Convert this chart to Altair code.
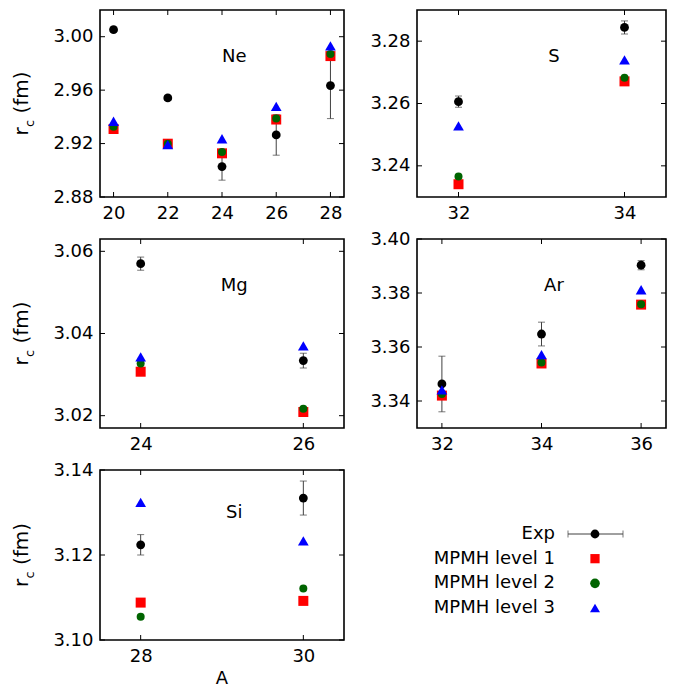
import altair as alt
import pandas as pd

FONT = "DejaVu Sans"
RED = "#ff0000"
GREEN = "#006400"
BLUE = "#0000ff"
BLACK = "#000000"
ERR = "#404040"

# ---------------- data ----------------
ne_A = [20, 22, 24, 26, 28]
ne_exp = [3.0053, 2.9542, 2.9028, 2.9265, 2.9634]
ne_err = [0.0017, 0.0018, 0.0102, 0.0152, 0.0247]
ne_l1 = [2.9309, 2.9199, 2.9127, 2.9380, 2.9855]
ne_l2 = [2.9326, 2.9199, 2.9137, 2.9387, 2.9870]
ne_l3 = [2.9367, 2.9192, 2.9236, 2.9478, 2.9932]

s_A = [32, 34]
s_exp = [3.2606, 3.2844]
s_err = [0.0018, 0.0021]
s_l1 = [3.2341, 3.2671]
s_l2 = [3.2366, 3.2683]
s_l3 = [3.2528, 3.2740]

mg_A = [24, 26]
mg_exp = [3.0570, 3.0334]
mg_err = [0.0016, 0.0018]
mg_l1 = [3.0307, 3.0209]
mg_l2 = [3.0327, 3.0217]
mg_l3 = [3.0343, 3.0370]

ar_A = [32, 34, 36]
ar_exp = [3.3463, 3.3648, 3.3903]
ar_err = [0.0103, 0.0044, 0.0017]
ar_l1 = [3.3420, 3.3539, 3.3757]
ar_l2 = [3.3426, 3.3543, 3.3758]
ar_l3 = [3.3441, 3.3572, 3.3812]

si_A = [28, 30]
si_exp = [3.1224, 3.1334]
si_err = [0.0024, 0.0040]
si_l1 = [3.1088, 3.1092]
si_l2 = [3.1055, 3.1121]
si_l3 = [3.1324, 3.1233]

ne_xticks = [20, 22, 24, 26, 28]
ne_yticks = [2.88, 2.92, 2.96, 3.00]
s_xticks = [32, 34]
s_yticks = [3.24, 3.26, 3.28]
mg_xticks = [24, 26]
mg_yticks = [3.02, 3.04, 3.06]
ar_xticks = [32, 34, 36]
ar_yticks = [3.34, 3.36, 3.38, 3.40]
si_xticks = [28, 30]
si_yticks = [3.10, 3.12, 3.14]

legend_labels = ["Exp", "MPMH level 1", "MPMH level 2", "MPMH level 3"]

TICK = 5


def panel(name, A, exp, err, l1, l2, l3, xdom, ydom, xticks, yticks, w, h,
          ytitle=False, xtitle=False):
    lo = [round(e - d, 5) for e, d in zip(exp, err)]
    hi = [round(e + d, 5) for e, d in zip(exp, err)]
    exp_df = pd.DataFrame({"A": A, "r": exp, "lo": lo, "hi": hi})
    xs = alt.Scale(domain=xdom, nice=False, zero=False)
    ys = alt.Scale(domain=ydom, nice=False, zero=False)
    xaxis = alt.Axis(values=xticks, format="d", title=None)
    yaxis = alt.Axis(values=yticks, format=".2f", title=None)

    def X(f="A"):
        return alt.X(f + ":Q", scale=xs, axis=xaxis)

    def Y(f="r"):
        return alt.Y(f + ":Q", scale=ys, axis=yaxis)

    ytdf = pd.DataFrame({"r": yticks})
    xtdf = pd.DataFrame({"A": xticks})
    layers = [
        alt.Chart(exp_df).mark_rule(color=ERR, strokeWidth=1).encode(
            x=X(), y=Y("lo"), y2="hi:Q"),
        alt.Chart(ytdf).mark_rule(color="black", strokeWidth=1).encode(
            y=Y(), x=alt.value(0), x2=alt.value(TICK)),
        alt.Chart(ytdf).mark_rule(color="black", strokeWidth=1).encode(
            y=Y(), x=alt.value(w), x2=alt.value(w - TICK)),
        alt.Chart(xtdf).mark_rule(color="black", strokeWidth=1).encode(
            x=X(), y=alt.value(h), y2=alt.value(h - TICK)),
        alt.Chart(xtdf).mark_rule(color="black", strokeWidth=1).encode(
            x=X(), y=alt.value(0), y2=alt.value(TICK)),
        alt.Chart(exp_df).mark_tick(color=ERR, thickness=1, size=7, orient="horizontal").encode(
            x=X(), y=Y("lo")),
        alt.Chart(exp_df).mark_tick(color=ERR, thickness=1, size=7, orient="horizontal").encode(
            x=X(), y=Y("hi")),
        alt.Chart(exp_df).mark_point(filled=True, shape="circle", size=78, color=BLACK,
                                     opacity=1).encode(x=X(), y=Y()),
        alt.Chart(pd.DataFrame({"A": A, "r": l1})).mark_point(
            filled=True, shape="square", size=100, color=RED, opacity=1).encode(x=X(), y=Y()),
        alt.Chart(pd.DataFrame({"A": A, "r": l2})).mark_point(
            filled=True, shape="circle", size=64, color=GREEN, opacity=1).encode(x=X(), y=Y()),
        alt.Chart(pd.DataFrame({"A": A, "r": l3})).mark_point(
            filled=True, shape="triangle-up", size=115, color=BLUE, opacity=1).encode(x=X(), y=Y()),
        alt.Chart(pd.DataFrame({"t": [name]})).mark_text(
            font=FONT, fontSize=18, color="black", align="center", baseline="middle").encode(
            text="t:N", x=alt.value(0.55 * w), y=alt.value(0.25 * h)),
    ]
    if ytitle:
        layers += [
            alt.Chart(pd.DataFrame({"t": ["r"]})).mark_text(
                font=FONT, fontSize=20, angle=270, align="center", baseline="alphabetic",
                color="black").encode(text="t:N", x=alt.value(-72), y=alt.value(h / 2 + 28)),
            alt.Chart(pd.DataFrame({"t": ["c"]})).mark_text(
                font=FONT, fontSize=13, angle=270, align="center", baseline="alphabetic",
                color="black").encode(text="t:N", x=alt.value(-66), y=alt.value(h / 2 + 20)),
            alt.Chart(pd.DataFrame({"t": ["(fm)"]})).mark_text(
                font=FONT, fontSize=20, angle=270, align="center", baseline="alphabetic",
                color="black").encode(text="t:N", x=alt.value(-72), y=alt.value(h / 2 - 11)),
        ]
    if xtitle:
        layers.append(
            alt.Chart(pd.DataFrame({"t": ["A"]})).mark_text(
                font=FONT, fontSize=18, align="center", baseline="alphabetic",
                color="black").encode(text="t:N", x=alt.value(w / 2), y=alt.value(h + 44)))
    return alt.layer(*layers).properties(width=w, height=h)


WL, WR = 244, 249
H1, H2, H3 = 187, 189, 170

ne = panel("Ne", ne_A, ne_exp, ne_err, ne_l1, ne_l2, ne_l3, [19.5, 28.5], [2.88, 3.02],
           ne_xticks, ne_yticks, WL, H1, ytitle=True)
s = panel("S", s_A, s_exp, s_err, s_l1, s_l2, s_l3, [31.5, 34.5], [3.23, 3.29],
          s_xticks, s_yticks, WR, H1)
mg = panel("Mg", mg_A, mg_exp, mg_err, mg_l1, mg_l2, mg_l3, [23.5, 26.5], [3.017, 3.063],
           mg_xticks, mg_yticks, WL, H2, ytitle=True)
ar = panel("Ar", ar_A, ar_exp, ar_err, ar_l1, ar_l2, ar_l3, [31.5, 36.5], [3.33, 3.40],
           ar_xticks, ar_yticks, WR, H2)
si = panel("Si", si_A, si_exp, si_err, si_l1, si_l2, si_l3, [27.5, 30.5], [3.10, 3.14],
           si_xticks, si_yticks, WL, H3, ytitle=True, xtitle=True)

# ---------------- legend ----------------
leg_df = pd.DataFrame({"label": legend_labels})
ly = alt.Y("label:N", scale=alt.Scale(type="point", domain=legend_labels, range=[64, 138],
                                      padding=0), axis=None)
exp_only = pd.DataFrame({"label": legend_labels[:1]})
legend = alt.layer(
    alt.Chart(exp_only).mark_rule(color=ERR, strokeWidth=1).encode(
        y=ly, x=alt.value(151), x2=alt.value(206)),
    alt.Chart(exp_only).mark_tick(color=ERR, thickness=1, size=7, orient="vertical").encode(
        y=ly, x=alt.value(151)),
    alt.Chart(exp_only).mark_tick(color=ERR, thickness=1, size=7, orient="vertical").encode(
        y=ly, x=alt.value(206)),
    alt.Chart(leg_df).mark_point(filled=True, opacity=1).encode(
        y=ly, x=alt.value(178),
        shape=alt.Shape("label:N", scale=alt.Scale(domain=legend_labels,
                        range=["circle", "square", "circle", "triangle-up"]), legend=None),
        color=alt.Color("label:N", scale=alt.Scale(domain=legend_labels,
                        range=[BLACK, RED, GREEN, BLUE]), legend=None),
        size=alt.Size("label:N", scale=alt.Scale(domain=legend_labels,
                      range=[78, 100, 64, 115]), legend=None)),
    alt.Chart(leg_df).mark_text(font=FONT, fontSize=18, align="right", baseline="middle",
                                color="black").encode(
        y=ly, x=alt.value(138), text="label:N"),
).properties(width=WR, height=H3, view=alt.ViewBackground(stroke="transparent"))

chart = alt.concat(ne, s, mg, ar, si, legend, columns=2,
                   spacing=alt.RowColnumber(row=42, column=73)).properties(
    align="each", bounds="flush",
    padding={"left": 3, "top": 0, "right": 0, "bottom": 0},
).configure_view(
    stroke="black", strokeWidth=1.6
).configure_axis(
    ticks=False, domain=False, grid=False, labelFont=FONT, labelFontSize=18,
    labelColor="black", labelFlush=False, labelOverlap=False,
).configure_axisX(labelPadding=7).configure_axisY(labelPadding=7)

chart.save("out.html", embed_options={"renderer": "svg", "actions": False})
